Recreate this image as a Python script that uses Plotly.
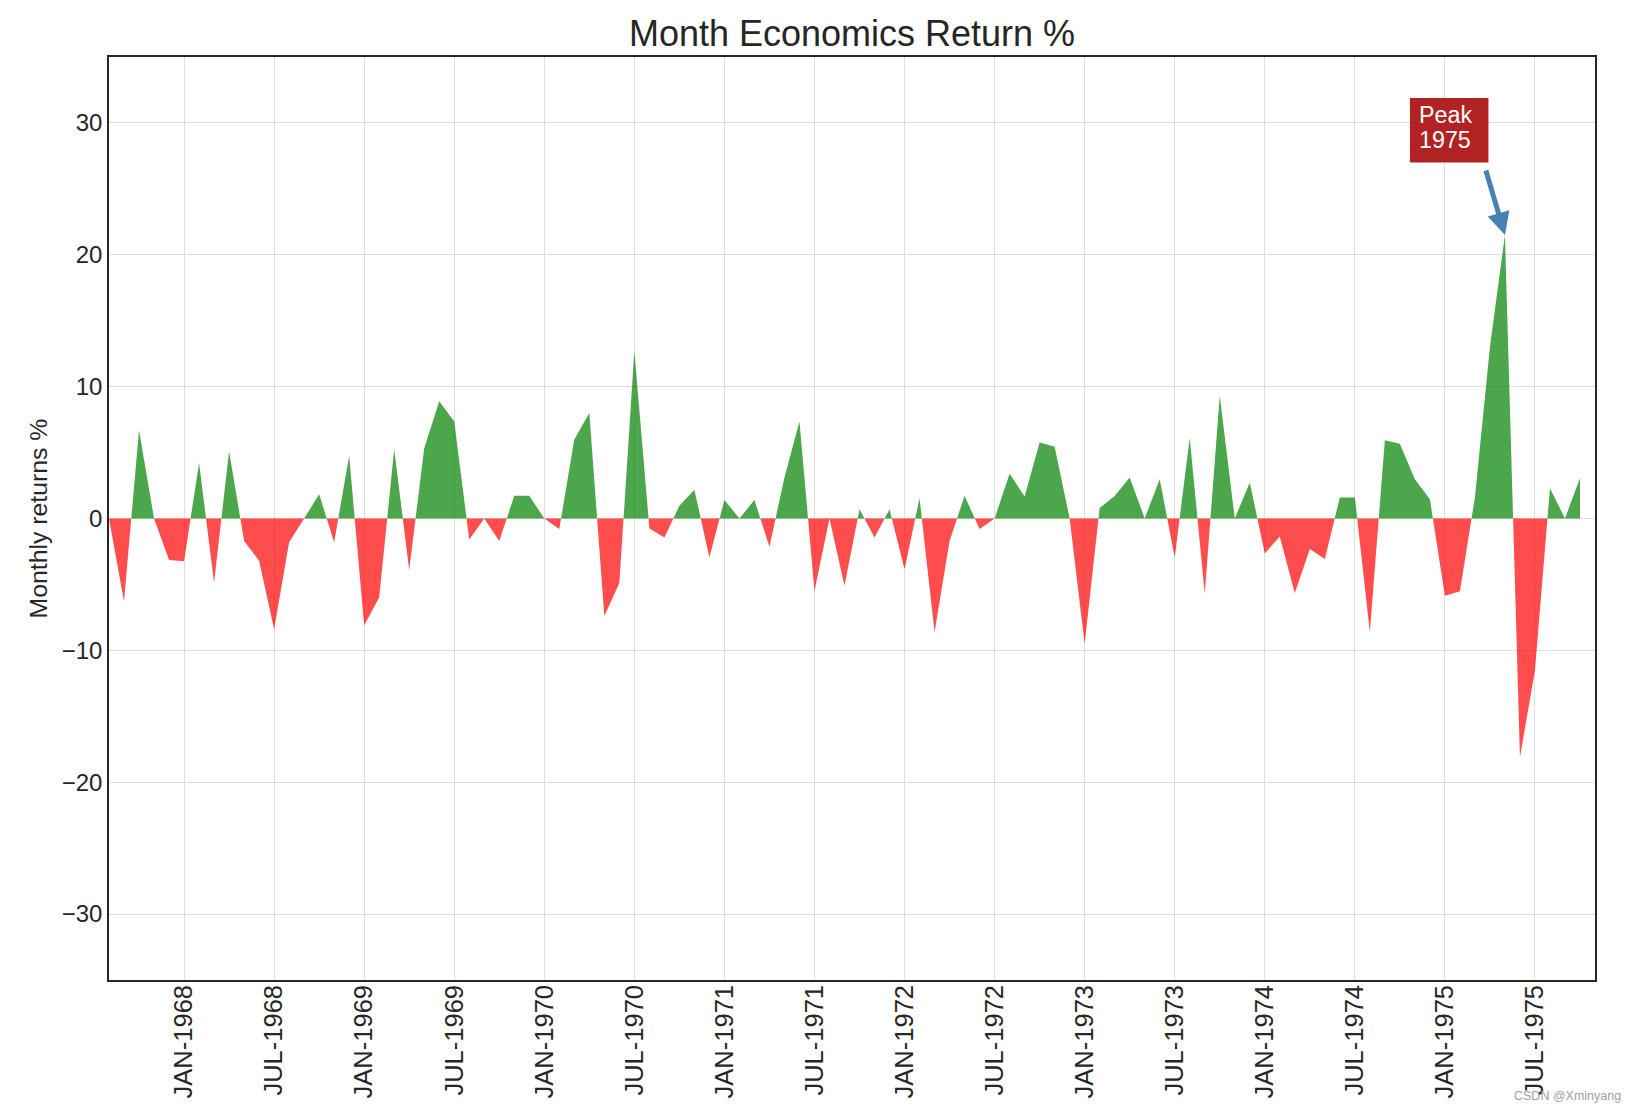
import plotly.graph_objects as go

# ---- data ----
month_index = list(range(1, 100))
monthly_returns = [
    0, -6.3, 6.7, 0, -3.15, -3.25, 4.2, -4.85, 5.1, -1.7,
    -3.2, -8.4, -1.8, 0, 1.84, -1.8, 4.75, -8.1, -6.0, 5.25,
    -3.9, 5.3, 8.9, 7.35, -1.6, 0, -1.7, 1.72, 1.72, 0,
    -0.8, 6.0, 8.0, -7.4, -4.9, 12.7, -0.73, -1.44, 0.96, 2.17,
    -2.95, 1.41, 0, 1.41, -2.15, 3.1, 7.35, -5.5, 0, -5.1,
    0.7, -1.44, 0.7, -3.84, 1.54, -8.6, -1.7, 1.72, -0.8, 0,
    3.4, 1.67, 5.76, 5.45, 0, -9.5, 0.8, 1.7, 3.1, 0,
    2.98, -2.95, 6.1, -5.7, 9.3, 0, 2.73, -2.65, -1.36, -5.66,
    -2.32, -3.08, 1.6, 1.6, -8.6, 5.94, 5.66, 2.98, 1.46, -5.86,
    -5.52, 1.6, 13.0, 21.5, -18.1, -11.5, 2.3, 0, 3.07,
]
tick_positions = [6, 12, 18, 24, 30, 36, 42, 48, 54, 60, 66, 72, 78, 84, 90, 96]
tick_labels = ["JAN-1968", "JUL-1968", "JAN-1969", "JUL-1969", "JAN-1970", "JUL-1970",
               "JAN-1971", "JUL-1971", "JAN-1972", "JUL-1972", "JAN-1973", "JUL-1973",
               "JAN-1974", "JUL-1974", "JAN-1975", "JUL-1975"]
peak_x, peak_y = 94, 21.5


def split_sign(xs, ys, positive):
    """Clip series to one side of zero, inserting interpolated zero crossings."""
    px, py = [], []
    for i in range(len(xs)):
        if i > 0:
            y0, y1 = ys[i - 1], ys[i]
            if y0 * y1 < 0:
                xc = xs[i - 1] + (xs[i] - xs[i - 1]) * (-y0) / (y1 - y0)
                px.append(xc)
                py.append(0)
        v = ys[i]
        px.append(xs[i])
        py.append(max(v, 0) if positive else min(v, 0))
    return px, py


gx, gy = split_sign(month_index, monthly_returns, True)
rx, ry = split_sign(month_index, monthly_returns, False)

FONT = "Arial, Liberation Sans, Helvetica, sans-serif"
TXT = "#262626"
L, R, T, B = 109, 46, 57, 131
W, H = 1641, 1111
PW, PH = W - L - R, H - T - B

fig = go.Figure()
fig.add_trace(go.Scatter(x=gx, y=gy, mode="lines", line=dict(width=0),
                         fill="tozeroy", fillcolor="rgba(0,128,0,0.7)",
                         hoverinfo="skip", showlegend=False))
fig.add_trace(go.Scatter(x=rx, y=ry, mode="lines", line=dict(width=0),
                         fill="tozeroy", fillcolor="rgba(255,0,0,0.7)",
                         hoverinfo="skip", showlegend=False))

fig.update_layout(
    width=W, height=H,
    margin=dict(l=L, r=R, t=T, b=B, autoexpand=False),
    paper_bgcolor="white", plot_bgcolor="white",
    font=dict(family=FONT, color=TXT),
    title=dict(text="Month Economics Return %", x=(L + PW / 2) / W, xanchor="center",
               y=1 - 33.0 / H, yanchor="middle", yref="container",
               font=dict(size=36, color=TXT, family=FONT)),
    xaxis=dict(range=[1, 100], tickmode="array", tickvals=tick_positions,
               ticktext=tick_labels, tickangle=-90, ticks="", automargin=False,
               ticklabelstandoff=-7,
               tickfont=dict(size=25.5, color=TXT, family=FONT),
               showgrid=True, gridcolor="#dedede", gridwidth=1,
               showline=True, linecolor="#262626", linewidth=1.6, mirror=True,
               zeroline=False),
    yaxis=dict(range=[-35, 35], tickmode="array", tickvals=[-30, -20, -10, 0, 10, 20, 30],
               ticks="", tickfont=dict(size=24, color=TXT, family=FONT), automargin=False,
               showgrid=True, gridcolor="#dedede", gridwidth=1,
               showline=True, linecolor="#262626", linewidth=1.6, mirror=True,
               zeroline=False,
               title=dict(text="Monthly returns %", standoff=7,
                          font=dict(size=24.8, color=TXT, family=FONT))),
)

# arrow
fig.add_annotation(x=peak_x, y=peak_y, xref="x", yref="y",
                   ax=92.7, ay=26.5, axref="x", ayref="y",
                   text="", showarrow=True, arrowhead=2, arrowsize=0.9,
                   arrowwidth=5, arrowcolor="#4682B4", standoff=0, startstandoff=0)
# label box
fig.add_shape(type="rect", xref="x", yref="y", x0=87.67, x1=92.9, y0=27.0, y1=31.9,
              fillcolor="#B22222", line=dict(width=0), layer="above")
fig.add_annotation(x=88.2, y=30.6, xref="x", yref="y", xanchor="left", yanchor="middle",
                   text="Peak", showarrow=False, borderpad=0,
                   font=dict(size=23.3, color="white", family=FONT))
fig.add_annotation(x=88.2, y=28.7, xref="x", yref="y", xanchor="left", yanchor="middle",
                   text="1975", showarrow=False, borderpad=0,
                   font=dict(size=23.3, color="white", family=FONT))
# watermark
fig.add_annotation(x=(1623 - L) / PW, y=(H - B - 1096) / PH, xref="paper", yref="paper",
                   xanchor="right", yanchor="middle", showarrow=False,
                   text="CSDN @Xminyang", font=dict(size=12.5, color="#a0a0a0", family=FONT))

fig.write_html("out.html", config={"displayModeBar": False},
               post_script="document.body.style.margin='0px';")
